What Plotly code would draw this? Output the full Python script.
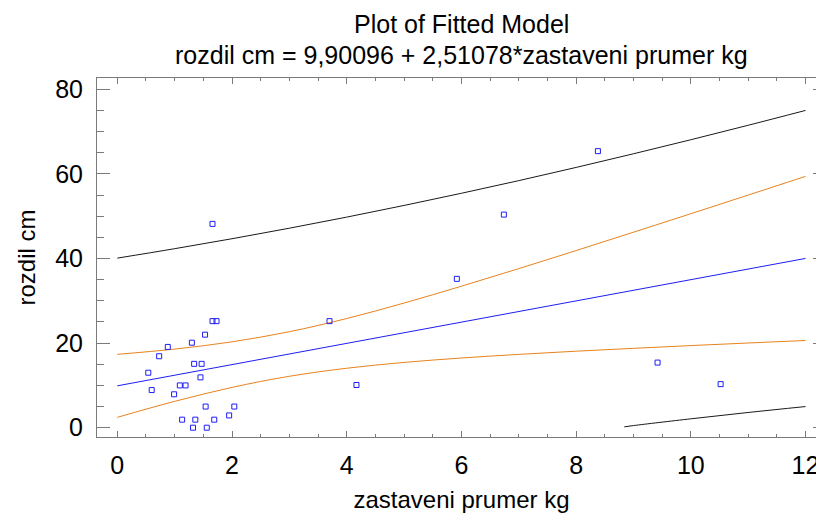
import plotly.graph_objects as go

obs_x = [1.66, 1.66, 1.73, 1.53, 0.88, 1.30, 0.73, 1.34, 1.47, 0.54, 1.45, 1.09, 1.19,
         0.60, 0.99, 1.54, 2.04, 1.95, 1.13, 1.36, 1.69, 1.32, 1.56,
         8.38, 6.74, 5.92, 3.70, 9.42, 4.17, 10.52]
obs_y = [48.2, 25.2, 25.2, 22.0, 19.1, 20.1, 16.9, 15.1, 15.1, 13.0, 11.9, 10.0, 10.0,
         8.9, 7.9, 5.0, 5.0, 2.9, 1.9, 1.9, 1.9, 0.0, 0.0,
         65.4, 50.4, 35.2, 25.2, 15.4, 10.1, 10.3]

# curves read at integer x positions
curve_x = [0, 1, 2, 3, 4, 5, 6, 7, 8, 9, 10, 11, 12]
fit_y = [9.90, 12.41, 14.92, 17.43, 19.94, 22.46, 24.97, 27.48, 29.99, 32.50, 35.01, 37.52, 40.03]
conf_hi = [17.35, 18.59, 20.31, 22.70, 25.82, 29.48, 33.46, 37.62, 41.89, 46.23, 50.60, 55.01, 59.44]
conf_lo = [2.45, 6.23, 9.53, 12.16, 14.06, 15.44, 16.48, 17.34, 18.09, 18.77, 19.42, 20.03, 20.62]
pred_hi = [40.10, 42.33, 44.69, 47.18, 49.80, 52.56, 55.44, 58.43, 61.55, 64.78, 68.10, 71.52, 75.03]
pred_lo_x = [8.84, 9, 10, 11, 12]
pred_lo = [0.2, 0.5, 2.1, 3.6, 5.0]

title_lines = ["Plot of Fitted Model", "rozdil cm = 9,90096 + 2,51078*zastaveni prumer kg"]
x_title = "zastaveni prumer kg"
y_title = "rozdil cm"

FONT = "Liberation Sans, Arial, sans-serif"
ORANGE = "#E8821E"
BLUE = "#1E1EF5"
BLACK = "#1A1A1A"
AX = "#7A7A7A"

fig = go.Figure()
fig.add_trace(go.Scatter(x=curve_x, y=pred_hi, mode="lines", line=dict(color=BLACK, width=1, shape="spline")))
fig.add_trace(go.Scatter(x=pred_lo_x, y=pred_lo, mode="lines", line=dict(color=BLACK, width=1, shape="spline")))
fig.add_trace(go.Scatter(x=curve_x, y=conf_hi, mode="lines", line=dict(color=ORANGE, width=1, shape="spline")))
fig.add_trace(go.Scatter(x=curve_x, y=conf_lo, mode="lines", line=dict(color=ORANGE, width=1, shape="spline")))
fig.add_trace(go.Scatter(x=curve_x, y=fit_y, mode="lines", line=dict(color=BLUE, width=1)))
fig.add_trace(go.Scatter(x=obs_x, y=obs_y, mode="markers",
                         marker=dict(symbol="square-open", size=5, color=BLUE, line=dict(width=1, color=BLUE))))

# page body has an 8px offset; figure coordinates below account for it
L, T, B, R = 89, 70, 85, 6
W, H = 824, 514
ph = H - T - B

fig.update_layout(
    width=W, height=H,
    margin=dict(l=L, r=R, t=T, b=B, autoexpand=False),
    paper_bgcolor="white", plot_bgcolor="white",
    showlegend=False,
    font=dict(family=FONT, color="black"),
)
fig.add_annotation(text=title_lines[0], xref="paper", yref="paper", x=0.5, y=1 + T / ph,
                   yanchor="top", showarrow=False, font=dict(size=25, family=FONT, color="black"))
fig.add_annotation(text=title_lines[1], xref="paper", yref="paper", x=0.5, y=1 + (T - 47) / ph,
                   yanchor="middle", showarrow=False, font=dict(size=25, family=FONT, color="black"))

fig.update_xaxes(
    range=[-0.354, 12.357], showgrid=False, zeroline=False, automargin=False,
    showline=True, linecolor=AX, linewidth=1, mirror="ticks",
    ticks="inside", ticklen=6, tickcolor=AX, tickwidth=1, dtick=2, tick0=0,
    minor=dict(ticks="inside", ticklen=3, dtick=0.5, tickcolor=AX, showgrid=False),
    tickfont=dict(size=25, family=FONT, color="black"),
    ticklabelstandoff=6,
    title=dict(text=x_title, font=dict(size=24, family=FONT, color="black"), standoff=13),
)
fig.update_yaxes(
    range=[-2.2, 82.7], showgrid=False, zeroline=False, automargin=False,
    showline=True, linecolor=AX, linewidth=1, mirror="ticks",
    ticks="inside", ticklen=13, tickcolor=AX, tickwidth=1, dtick=20, tick0=0,
    minor=dict(ticks="inside", ticklen=7, dtick=5, tickcolor=AX, showgrid=False),
    tickfont=dict(size=25, family=FONT, color="black"),
    ticklabelstandoff=8,
    title=dict(text=y_title, font=dict(size=24, family=FONT, color="black"), standoff=12),
)

fig.write_html("out.html")
